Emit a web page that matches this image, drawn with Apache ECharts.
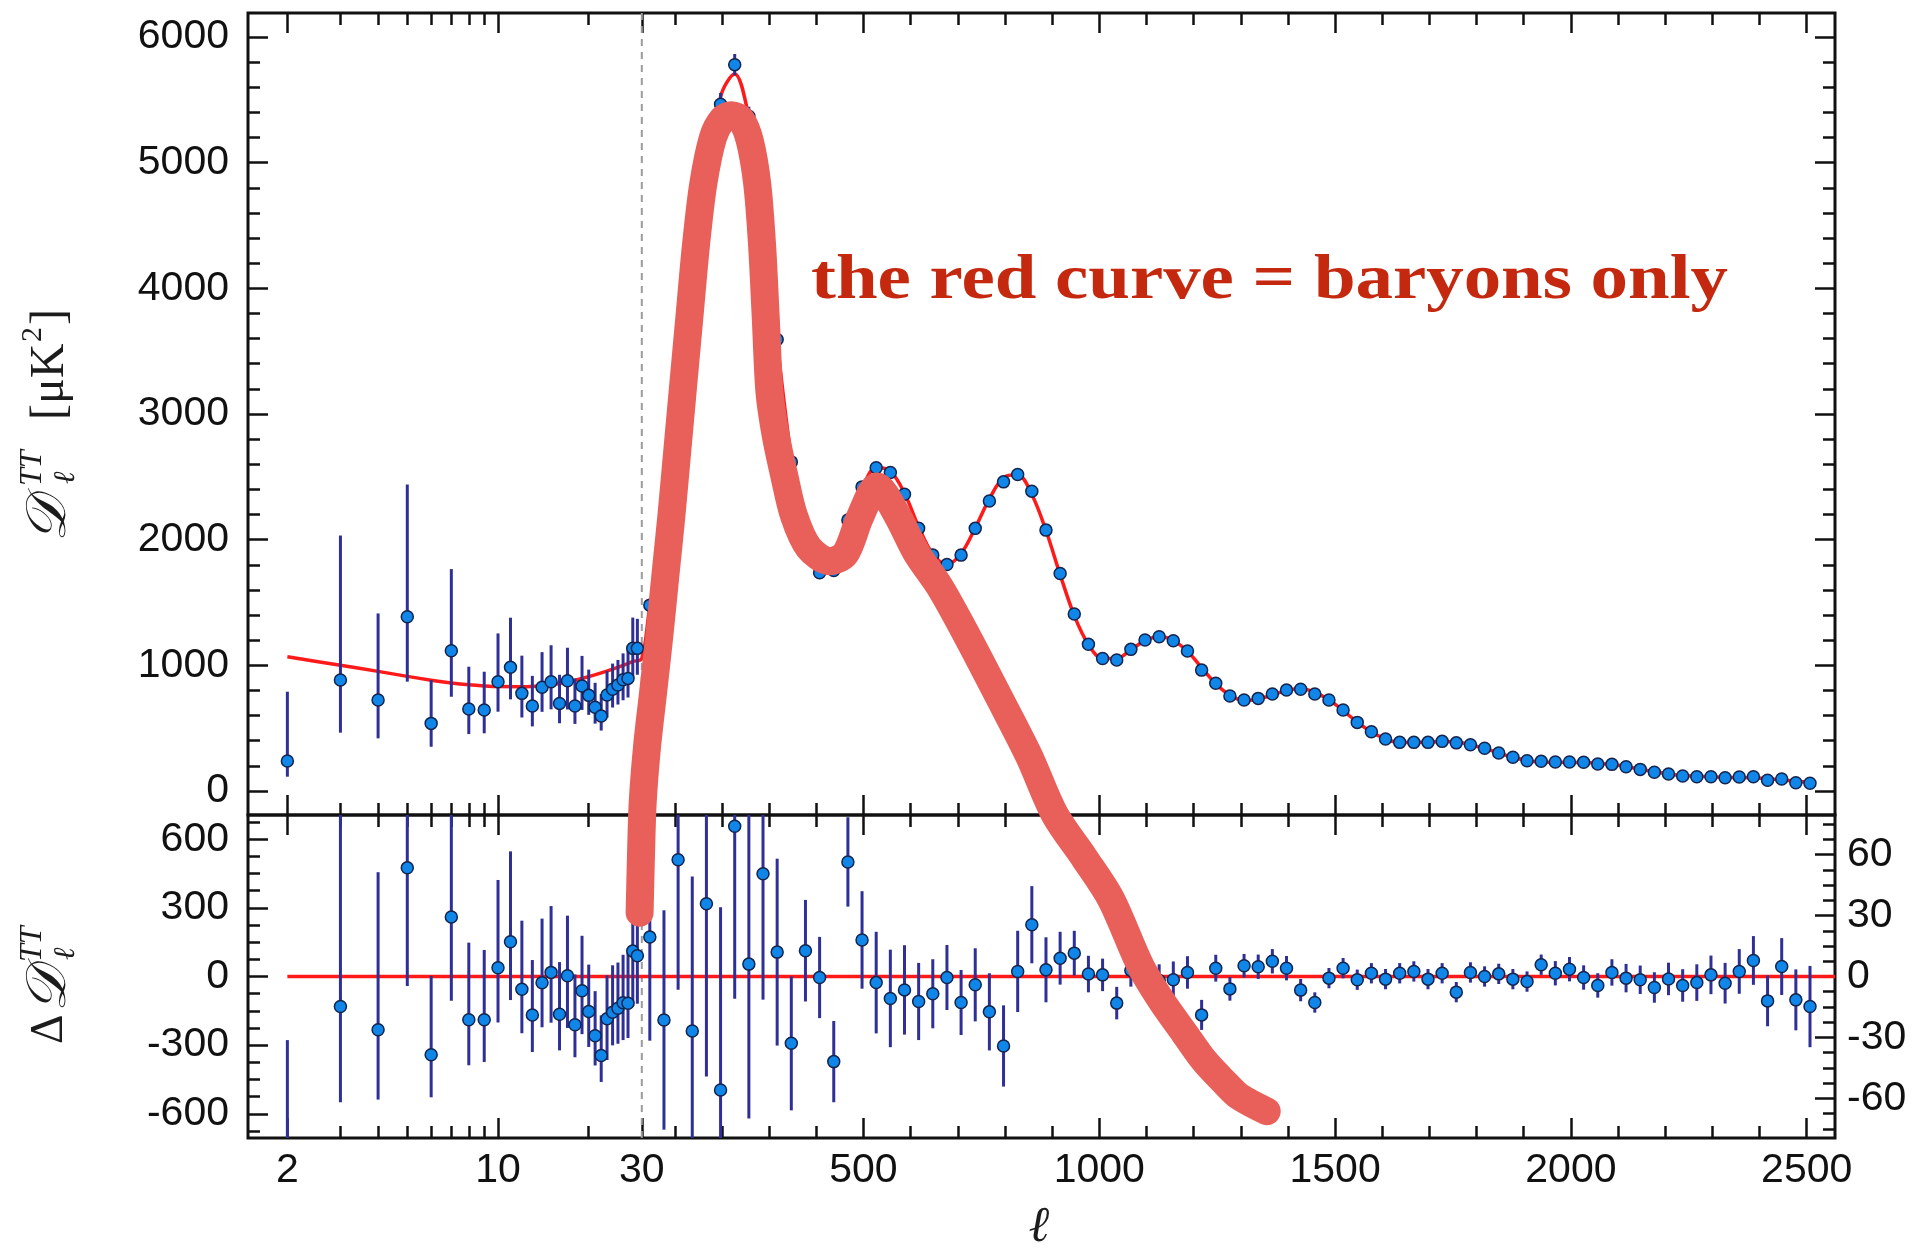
<!DOCTYPE html>
<html>
<head>
<meta charset="utf-8">
<script src="https://cdn.jsdelivr.net/npm/echarts@6/dist/echarts.min.js"></script>
<style>
  html, body { margin: 0; padding: 0; background: #ffffff; }
  #chart { width: 1921px; height: 1255px; }
</style>
</head>
<body>
<div id="chart"></div>
<script>
// ---- Multipole axis: logarithmic for l < 30, linear above ----
const LOG_UNITS_PER_DECADE = 639;
function u(l) { return l >= 30 ? l : 30 - LOG_UNITS_PER_DECADE * Math.log10(30 / l); }
function invU(v) { return v >= 30 ? v : 30 * Math.pow(10, (v - 30) / LOG_UNITS_PER_DECADE); }

// ---- Tick labels ----
const xMajorTicks = [2, 10, 30, 500, 1000, 1500, 2000, 2500];
const xMinorTicks = [3, 4, 5, 6, 7, 8, 9, 20, 100, 200, 300, 400, 600, 700, 800, 900, 1100, 1200, 1300, 1400,
  1600, 1700, 1800, 1900, 2100, 2200, 2300, 2400];
const topMajorY = [0, 1000, 2000, 3000, 4000, 5000, 6000];
const topMinorY = [200, 400, 600, 800, 1200, 1400, 1600, 1800, 2200, 2400, 2600, 2800, 3200, 3400, 3600, 3800,
  4200, 4400, 4600, 4800, 5200, 5400, 5600, 5800];
const resLeftMajorY = [-600, -300, 0, 300, 600];
const resLeftMinorY = [-675, -525, -450, -375, -225, -150, -75, 75, 150, 225, 375, 450, 525, 675];
const resRightMajorY = [-60, -30, 0, 30, 60];
const resRightMinorY = [-75, -67.5, -52.5, -45, -37.5, -22.5, -15, -7.5, 7.5, 15, 22.5, 37.5, 45, 52.5, 67.5, 75];

// ---- Low-l spectrum (individual multipoles) ----
const lowEll = [2, 3, 4, 5, 6, 7, 8, 9, 10, 11, 12, 13, 14, 15, 16, 17, 18, 19, 20, 21, 22, 23, 24, 25, 26, 27, 28, 29];
const lowD = [239, 883, 724, 1387, 538, 1116, 652, 644, 870, 984, 777, 676, 825, 870, 697, 877, 676, 835, 761, 666,
  597, 764, 809, 843, 885, 896, 1135, 1135];
const lowErrUp = [551, 1150, 689, 1052, 345, 650, 337, 305, 384, 395, 300, 240, 280, 290, 228, 263, 220, 240, 205, 195,
  175, 190, 205, 200, 210, 240, 245, 235];
const lowErrDown = [125, 419, 305, 517, 186, 366, 199, 185, 239, 255, 192, 162, 195, 220, 158, 228, 142, 190, 155, 130,
  116, 180, 145, 155, 163, 152, 240, 210];
const lowDelta = [-829, -131, -233, 475, -342, 260, -189, -189, 38, 152, -56, -168, -27, 18, -165, 3, -211, -62, -153, -259,
  -345, -185, -156, -139, -115, -117, 111, 91];

// ---- High-l spectrum (binned) ----
const highEll = [47, 77, 107, 137, 167, 197, 227, 257, 287, 317, 347, 377, 407, 437, 467, 497, 527, 557, 587, 617,
  647, 677, 707, 737, 767, 797, 827, 857, 887, 917, 947, 977, 1007, 1037, 1067, 1097, 1127, 1157, 1187, 1217,
  1247, 1277, 1307, 1337, 1367, 1397, 1427, 1457, 1487, 1517, 1547, 1577, 1607, 1637, 1667, 1697, 1727, 1757, 1787, 1817,
  1847, 1877, 1907, 1937, 1967, 1997, 2027, 2057, 2087, 2117, 2147, 2177, 2207, 2237, 2267, 2297, 2327, 2357, 2387, 2417,
  2447, 2477, 2507];
const highD = [1479, 1960, 2750, 3700, 4650, 5465, 5780, 5369, 4780, 3593, 2619, 2010, 1737, 1755, 2156, 2420, 2572, 2535, 2362, 2090,
  1877, 1803, 1877, 2090, 2307, 2460, 2519, 2386, 2076, 1731, 1408, 1167, 1055, 1042, 1127, 1201, 1227, 1196, 1114, 962,
  857, 756, 724, 737, 772, 803, 809, 772, 724, 644, 546, 472, 414, 387, 387, 387, 395, 383, 368, 340,
  302, 268, 241, 236, 231, 231, 228, 215, 212, 193, 172, 149, 135, 119, 114, 114, 106, 111, 114, 85,
  95, 66, 61];
const highErr = [51, 54, 64, 76, 85, 90, 85, 76, 62, 46, 33, 25, 20, 20, 22, 24, 25, 24, 22, 19,
  17, 16, 16, 18, 19, 20, 20, 19, 16, 13, 11, 9, 8, 8, 8, 8, 8, 9, 8, 7.4,
  6.6, 5.8, 5.8, 6, 6, 6, 5.5, 5, 5, 5, 5, 5, 5, 5, 5, 5, 5, 5, 5, 5,
  5, 5, 5, 5, 6, 6, 6, 6, 6.5, 7, 7, 7.5, 8, 8, 9, 9.5, 10, 11, 12, 12.5,
  14, 15, 20];
const highDelta = [19.4, -21.4, 57.5, -26.8, 35.8, -55.9, 74, 6.1, 50.6, 12, -32.9, 12.7, -0.5, -41.9, 56.4, 18, -3, -10.8, -6.6, -12.3,
  -8.5, -0.5, -12.8, -4.1, -17.4, -34.2, 2.5, 25.5, 3.3, 9, 11.5, 1.2, 0.8, -13.1, 3, 5, -2, -1.6, 2, -18.9,
  4.1, -6.1, 5.3, 4.8, 7.5, 4.1, -6.7, -12.8, -0.8, 4.1, -1.6, 1.6, -1.3, 1.6, 2.5, -1.3, 1.6, -7.7, 2, 0,
  1.3, -1.3, -2.5, 5.8, 1.6, 3.6, -0.5, -4.4, 2, -0.8, -1.6, -5.4, -1.2, -4.4, -3, 0.8, -3.3, 2.5, 7.9, -12,
  4.9, -11.5, -14.8];

// ---- Best-fit model curve ----
const modelEll = [2, 3, 4, 5, 6, 7, 8, 9, 10, 12, 14, 16, 18, 20, 22, 24, 26, 28, 30,
  47, 77, 107, 137, 167, 197, 227, 257, 287, 317, 347, 377, 407, 437, 467, 497, 527, 557, 587, 617,
  647, 677, 707, 737, 767, 797, 827, 857, 887, 917, 947, 977, 1007, 1037, 1067, 1097, 1127, 1157, 1187, 1217,
  1247, 1277, 1307, 1337, 1367, 1397, 1427, 1457, 1487, 1517, 1547, 1577, 1607, 1637, 1667, 1697, 1727, 1757, 1787, 1817,
  1847, 1877, 1907, 1937, 1967, 1997, 2027, 2057, 2087, 2117, 2147, 2177, 2207, 2237, 2267, 2297, 2327, 2357, 2387, 2417,
  2447, 2477, 2507];
const modelD = [1068, 1000, 952, 912, 882, 860, 845, 836, 831, 830, 838, 855, 880, 910, 940, 970, 1000, 1030, 1055,
  1460, 1981, 2693, 3727, 4614, 5521, 5706, 5363, 4729, 3581, 2652, 1997, 1737, 1797, 2100, 2402, 2575, 2546, 2369, 2102,
  1885, 1803, 1890, 2094, 2324, 2494, 2516, 2360, 2073, 1722, 1396, 1166, 1054, 1055, 1124, 1196, 1229, 1198, 1112, 981,
  853, 762, 719, 732, 764, 799, 816, 785, 725, 640, 548, 470, 415, 385, 385, 388, 393, 391, 366, 340,
  301, 269, 244, 230, 229, 227, 228, 219, 210, 194, 174, 154, 136, 123, 117, 113, 109, 108, 106, 97,
  90, 78, 72];

// ---- Hand-drawn "baryons only" curve (in spectrum units, runs below zero into the residual panel) ----
const baryonEll = [29.5, 29.8, 31.9, 41, 54, 66.9, 79.9, 93, 105.9, 118.8, 131.8, 144.9, 160.4, 181.2, 202, 220, 241, 259,
  274.7, 285, 292.9, 300.7, 313.7, 331.9, 352.7, 383.8, 427.9, 461.6, 492.8, 529, 570.8, 612, 661.8, 721, 786, 851,
  906, 968, 1025, 1088, 1132, 1180, 1223, 1267, 1297, 1355];
const baryonD = [-968, -530, -91, 348, 786, 1225, 1712, 2200, 2736, 3272, 3808, 4345, 4832, 5203, 5349, 5378, 5339, 5173,
  4832, 4345, 3760, 3175, 2834, 2512, 2190, 1937, 1829, 1888, 2180, 2424, 2200, 1898, 1625, 1225, 757, 279,
  -189, -530, -861, -1397, -1670, -1924, -2148, -2324, -2431, -2548];

// ---- Layout ----
const X_MIN = -805, X_MAX = 2560;
const TOP_Y = [-191, 6191];
const RES_LEFT_Y = [-706, 706];
const RES_RIGHT_Y = [-79.5, 79.5];
const OVER_Y = [-2761, 6191];
const GRID_LEFT = 248, GRID_RIGHT = 86;

const INK = '#111111';
const POINT_FILL = '#0f86e8';
const POINT_EDGE = '#13244f';
const BAR_COLOR = '#2f2f98';
const MODEL_RED = '#ff1a1a';
const BARYON_RED = '#e9605a';
const LABEL_FONT = 'Liberation Sans';

function tickStyle(len) {
  return { show: true, inside: true, length: len, lineStyle: { color: INK, width: 2.5 } };
}
function xAx(grid, pos, ticks, len, labelOpt) {
  const vals = ticks.map(u);
  const tick = tickStyle(len); tick.customValues = vals;
  return {
    type: 'value', gridIndex: grid, position: pos, min: X_MIN, max: X_MAX,
    axisLine: { show: false, onZero: false }, splitLine: { show: false }, axisTick: tick,
    axisLabel: labelOpt ? Object.assign({ show: true, customValues: vals }, labelOpt) : { show: false }
  };
}
function yAx(grid, pos, range, ticks, len, labelOpt) {
  const tick = tickStyle(len); tick.customValues = ticks;
  return {
    type: 'value', gridIndex: grid, position: pos, min: range[0], max: range[1],
    axisLine: { show: false, onZero: false }, splitLine: { show: false }, axisTick: tick,
    axisLabel: labelOpt ? Object.assign({ show: true, customValues: ticks }, labelOpt) : { show: false }
  };
}
const xLabel = {
  fontSize: 41, fontFamily: LABEL_FONT, color: INK, margin: 12,
  formatter: v => String(Math.round(invU(v)))
};
const plain = v => String(v);
const yLabelLeft = { fontSize: 41, fontFamily: LABEL_FONT, color: INK, margin: 19, formatter: plain };
const yLabelRight = { fontSize: 41, fontFamily: LABEL_FONT, color: INK, margin: 12, formatter: plain };

const MAJOR = 20, MINOR = 12;

const xAxes = [
  // spectrum panel: 0..3
  xAx(0, 'bottom', xMajorTicks, MAJOR), xAx(0, 'bottom', xMinorTicks, MINOR),
  xAx(0, 'top', xMajorTicks, MAJOR), xAx(0, 'top', xMinorTicks, MINOR),
  // residual panel: 4..7
  xAx(1, 'bottom', xMajorTicks, MAJOR, xLabel), xAx(1, 'bottom', xMinorTicks, MINOR),
  xAx(1, 'top', xMajorTicks, MAJOR), xAx(1, 'top', xMinorTicks, MINOR),
  // overlay: 8
  { type: 'value', gridIndex: 2, min: X_MIN, max: X_MAX, show: false }
];
const yAxes = [
  yAx(0, 'left', TOP_Y, topMajorY, MAJOR, yLabelLeft), yAx(0, 'left', TOP_Y, topMinorY, MINOR),
  yAx(0, 'right', TOP_Y, topMajorY, MAJOR), yAx(0, 'right', TOP_Y, topMinorY, MINOR),
  yAx(1, 'left', RES_LEFT_Y, resLeftMajorY, MAJOR, yLabelLeft), yAx(1, 'left', RES_LEFT_Y, resLeftMinorY, MINOR),
  yAx(1, 'right', RES_RIGHT_Y, resRightMajorY, MAJOR, yLabelRight), yAx(1, 'right', RES_RIGHT_Y, resRightMinorY, MINOR),
  { type: 'value', gridIndex: 2, min: OVER_Y[0], max: OVER_Y[1], show: false }
];

function errorBar(params, api) {
  const x = api.value(0);
  const a = api.coord([x, api.value(1)]);
  const b = api.coord([x, api.value(2)]);
  return {
    type: 'line',
    shape: { x1: a[0], y1: a[1], x2: b[0], y2: b[1] },
    style: { stroke: BAR_COLOR, lineWidth: 3 }
  };
}
function barSeries(xi, yi, data) {
  return { type: 'custom', xAxisIndex: xi, yAxisIndex: yi, renderItem: errorBar, data: data,
    encode: { x: 0, y: [1, 2] }, clip: true, z: 3, silent: true };
}
function pointSeries(xi, yi, data) {
  return { type: 'scatter', xAxisIndex: xi, yAxisIndex: yi, data: data, symbol: 'circle', symbolSize: 12,
    itemStyle: { color: POINT_FILL, borderColor: POINT_EDGE, borderWidth: 1.5, opacity: 1 }, clip: true, z: 4, silent: true };
}

const lowPts = lowEll.map((l, i) => [u(l), lowD[i]]);
const lowBars = lowEll.map((l, i) => [u(l), lowD[i] - lowErrDown[i], lowD[i] + lowErrUp[i]]);
const lowResPts = lowEll.map((l, i) => [u(l), lowDelta[i]]);
const lowResBars = lowEll.map((l, i) => [u(l), lowDelta[i] - lowErrDown[i], lowDelta[i] + lowErrUp[i]]);
const highPts = highEll.map((l, i) => [u(l), highD[i]]);
const highBars = highEll.map((l, i) => [u(l), highD[i] - highErr[i], highD[i] + highErr[i]]);
const highResPts = highEll.map((l, i) => [u(l), highDelta[i]]);
const highResBars = highEll.map((l, i) => [u(l), highDelta[i] - highErr[i], highDelta[i] + highErr[i]]);
const modelLine = modelEll.map((l, i) => [u(l), modelD[i]]);
const baryonLine = baryonEll.map((l, i) => [u(l), baryonD[i]]);

const chart = echarts.init(document.getElementById('chart'), null, { renderer: 'canvas' });

const titleFill = '#1c1c1c';
function t(x, y, text, font) {
  return { type: 'text', x: x, y: y, style: { text: text, font: font, fill: titleFill, align: 'left', verticalAlign: 'middle' } };
}

chart.setOption({
  animation: false,
  backgroundColor: '#ffffff',
  grid: [
    { left: GRID_LEFT, right: GRID_RIGHT, top: 13, height: 802, show: true, borderColor: INK, borderWidth: 3, backgroundColor: 'transparent' },
    { left: GRID_LEFT, right: GRID_RIGHT, top: 815, height: 323, show: true, borderColor: INK, borderWidth: 3, backgroundColor: 'transparent' },
    { left: GRID_LEFT, right: GRID_RIGHT, top: 13, height: 1125, show: false }
  ],
  xAxis: xAxes,
  yAxis: yAxes,
  series: [
    // l = 30 divider between the logarithmic and linear parts
    { type: 'line', xAxisIndex: 8, yAxisIndex: 8, data: [[u(30), OVER_Y[0]], [u(30), OVER_Y[1]]],
      showSymbol: false, lineStyle: { color: '#9b9b9b', width: 2, type: [7, 6] }, z: 1, silent: true },
    // spectrum panel
    { type: 'line', xAxisIndex: 0, yAxisIndex: 0, data: modelLine, smooth: 0.35, showSymbol: false,
      lineStyle: { color: MODEL_RED, width: 3.5 }, z: 2, silent: true },
    barSeries(0, 0, lowBars), pointSeries(0, 0, lowPts),
    barSeries(0, 0, highBars), pointSeries(0, 0, highPts),
    // residual panel
    { type: 'line', xAxisIndex: 4, yAxisIndex: 4, data: [[u(2), 0], [X_MAX, 0]], showSymbol: false,
      lineStyle: { color: MODEL_RED, width: 3.5 }, z: 2, silent: true },
    barSeries(4, 4, lowResBars), pointSeries(4, 4, lowResPts),
    barSeries(4, 6, highResBars), pointSeries(4, 6, highResPts),
    // baryons-only sketch across both panels
    { type: 'line', xAxisIndex: 8, yAxisIndex: 8, data: baryonLine, smooth: 0.3, showSymbol: false,
      lineStyle: { color: BARYON_RED, width: 28, cap: 'round', join: 'round' }, z: 6, silent: true }
  ],
  graphic: [
    { type: 'text', x: 811, y: 281, scaleX: 1.17, z: 100,
      style: { text: 'the red curve = baryons only', font: 'bold 64px "Liberation Serif"', fill: '#c4290f',
        align: 'left', verticalAlign: 'middle' } },
    // vertical axis titles
    { type: 'group', x: 50, y: 418, rotation: Math.PI / 2, z: 100, children: [
      t(-124, 0, '𝒟', 'italic 56px "DejaVu Serif"'),
      t(-68, -17, 'TT', 'italic 32px "Liberation Serif"'),
      t(-66, 16, 'ℓ', 'italic 30px "Liberation Serif"'),
      t(-2, 0, '[μK', '48px "Liberation Serif"'),
      t(76, -17, '2', '30px "Liberation Serif"'),
      t(93, 0, ']', '48px "Liberation Serif"')
    ] },
    { type: 'group', x: 50, y: 974, rotation: Math.PI / 2, z: 100, children: [
      t(-70, 0, 'Δ', '46px "Liberation Serif"'),
      t(-38, 0, '𝒟', 'italic 56px "DejaVu Serif"'),
      t(12, -17, 'TT', 'italic 32px "Liberation Serif"'),
      t(14, 16, 'ℓ', 'italic 30px "Liberation Serif"')
    ] },
    { type: 'text', x: 1039, y: 1228, z: 100,
      style: { text: 'ℓ', font: 'italic 50px "Liberation Serif"', fill: titleFill, align: 'center', verticalAlign: 'middle' } }
  ]
});
</script>
</body>
</html>
